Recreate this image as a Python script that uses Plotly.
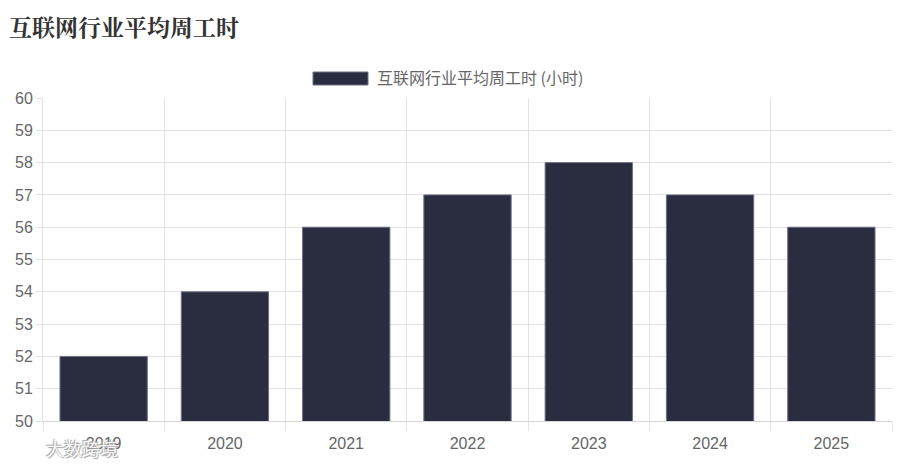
import plotly.graph_objects as go

years = ["2019", "2020", "2021", "2022", "2023", "2024", "2025"]
hours = [52, 54, 56, 57, 58, 57, 56]
series_name = "互联网行业平均周工时 (小时)"
title_text = "互联网行业平均周工时"
watermark = "大数跨境"

BAR = "#2a2d40"
EDGE = "#6f7184"
GRID = "#e3e3e3"
TXT = "#666666"
FONT = "Liberation Sans, Arial, sans-serif"

# page body has an 8px margin; plot area in page coords: x 43..892, y 98..421
PX0, PX1, PY0, PY1 = 43, 892, 98, 421


def px(x):
    return (x - PX0) / (PX1 - PX0)


def py(y):
    return (PY1 - y) / (PY1 - PY0)


fig = go.Figure()
fig.add_trace(go.Bar(
    x=years, y=hours, name=series_name,
    marker=dict(color=BAR, line=dict(color=EDGE, width=1)),
    showlegend=False, hoverinfo="x+y",
))

fig.update_layout(
    width=897, height=457,
    margin=dict(l=35, r=13, t=90, b=44, autoexpand=False),
    paper_bgcolor="white", plot_bgcolor="white",
    bargap=0.28,
    font=dict(family=FONT, size=16, color=TXT),
    xaxis=dict(
        type="category", tickson="boundaries",
        showgrid=True, gridcolor=GRID, gridwidth=1,
        ticks="outside", ticklen=9, tickcolor=GRID,
        ticklabelstandoff=8,
        showline=True, linecolor="#d6d6d6", linewidth=1,
        tickfont=dict(family=FONT, size=16, color=TXT),
        zeroline=False, fixedrange=True, automargin=False,
    ),
    yaxis=dict(
        range=[50, 60], dtick=1, tick0=50,
        showgrid=True, gridcolor=GRID, gridwidth=1,
        ticks="outside", ticklen=6, tickcolor=GRID,
        showline=True, linecolor=GRID,
        tickfont=dict(family=FONT, size=16, color=TXT),
        zeroline=False, fixedrange=True, automargin=False,
    ),
    shapes=[dict(
        type="rect", xref="paper", yref="paper",
        x0=px(313), x1=px(368), y0=py(85), y1=py(72),
        fillcolor=BAR, line=dict(color=EDGE, width=1),
    )],
    annotations=[
        dict(text=title_text, xref="paper", yref="paper",
             x=px(7), y=py(8.5), xanchor="left", yanchor="top",
             showarrow=False,
             font=dict(family="Noto Serif CJK SC, Noto Sans CJK SC, serif", size=23,
                       color="#333333", weight="bold")),
        dict(text=series_name, xref="paper", yref="paper",
             x=px(375), y=py(77), xanchor="left", yanchor="middle",
             showarrow=False,
             font=dict(family="Noto Sans CJK SC, " + FONT, size=16, color=TXT)),
        dict(text=watermark, xref="paper", yref="paper",
             x=px(44), y=py(448), xanchor="left", yanchor="middle",
             showarrow=False,
             font=dict(family="Noto Sans CJK SC", size=18, color="rgba(255,255,255,0.92)",
                       shadow="1px 1px 1px #999, -1px -1px 1px #999")),
    ],
)

fig.write_html("out.html")
